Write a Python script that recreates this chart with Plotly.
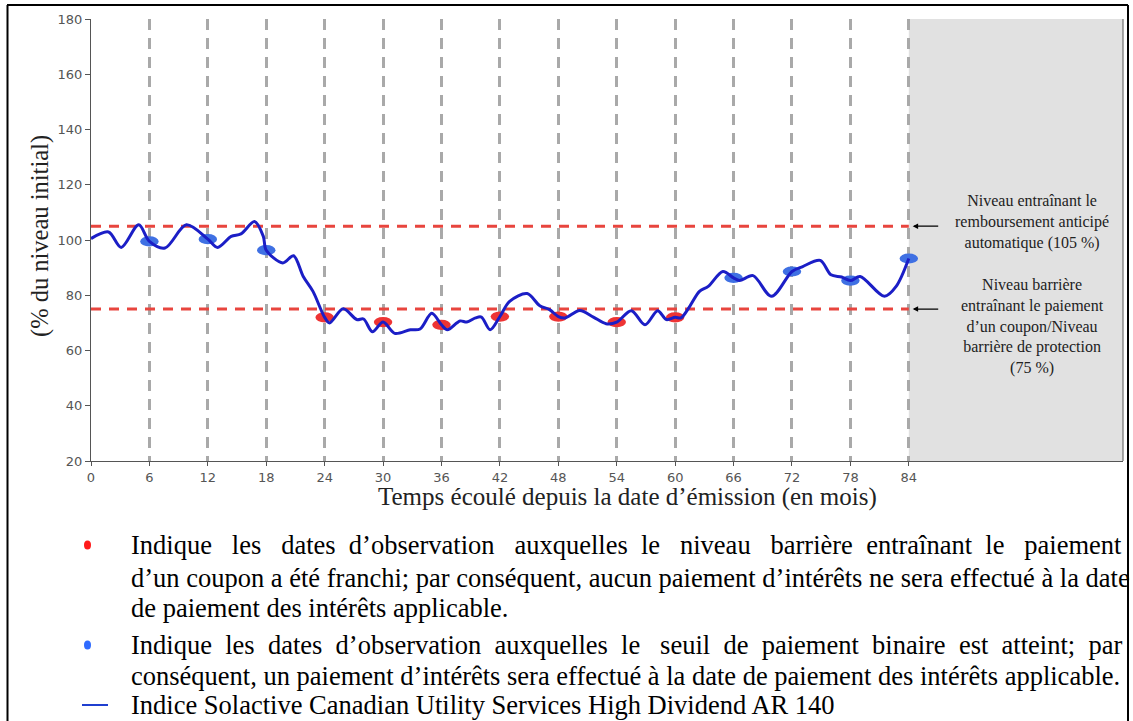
import plotly.graph_objects as go

# ---------------- data ----------------
months = [0, 1.8, 3.1, 4.9, 6, 7.6, 9.8, 12, 13.0, 14.4, 15.4, 16.8, 17.7, 18,
          19.7, 20.8, 21.8, 22.8, 24, 24.5, 25.9, 27.3, 28.0, 28.9, 30, 31.2, 32.8, 33.8, 35.0, 36,
          36.6, 37.9, 38.6, 39.5, 40.1, 41.0, 42, 43.0, 44.8, 46.1, 47.1, 48, 48.7, 50.2, 51.6, 52.9, 54,
          55.5, 56.9, 58.2, 59.1, 60, 60.6, 61.5, 62.5, 63.4, 64.9, 66, 66.6, 68.0, 69.9, 72, 73.1,
          74.9, 76.0, 77.1, 78, 79.0, 81.5, 82.7, 84]
index_level = [100.5, 102.9, 97.3, 105.5, 99.5, 97.1, 105.5, 100.3, 97.3, 101.3, 102.2, 106.7, 101.3, 96.3,
               91.7, 94.3, 86.8, 81.4, 72.0, 70.0, 75.1, 71.2, 71.4, 66.8, 70.3, 66.2, 67.5, 67.8, 73.5, 69.3,
               67.5, 70.7, 70.3, 71.8, 72.1, 67.5, 72.3, 77.8, 80.6, 76.2, 74.8, 72.3, 71.8, 74.5, 72.1, 69.7, 70.3,
               74.4, 69.3, 74.4, 71.2, 72.0, 71.8, 76.0, 81.4, 83.2, 88.6, 86.3, 85.3, 87.1, 79.6, 88.6, 90.4,
               92.6, 87.4, 86.6, 85.3, 86.8, 79.6, 83.2, 93.3]

obs_months = [6, 12, 18, 24, 30, 36, 42, 48, 54, 60, 66, 72, 78, 84]
obs_levels = [99.5, 100.3, 96.3, 72.0, 70.3, 69.3, 72.3, 72.3, 70.3, 72.0, 86.3, 88.6, 85.3, 93.3]

autocall_level = 105
barrier_level = 75
x_ticks = [0, 6, 12, 18, 24, 30, 36, 42, 48, 54, 60, 66, 72, 78, 84]
y_ticks = [20, 40, 60, 80, 100, 120, 140, 160, 180]
x_range = [0, 106]
y_range = [20, 180]

# ---------------- styles ----------------
LINE_BLUE = "#1b1ec6"
DOT_BLUE = "#3f70e3"
DOT_RED = "#ee3434"
DASH_RED = "#e8453e"
GRID_GRAY = "#a9a9a9"
SERIF = "Liberation Serif, Times New Roman, serif"
SANS = "DejaVu Sans, sans-serif"

W, H = 1133, 721
L, R, T, B = 91, 1123, 19, 461


def px(x):
    return (x - L) / (R - L)


def py(y):
    return (B - y) / (B - T)


fig = go.Figure()
fig.add_trace(go.Scatter(
    x=months, y=index_level, mode="lines",
    line=dict(color=LINE_BLUE, width=3, shape="spline", smoothing=0.9),
    showlegend=False, hoverinfo="skip"))

shapes = []
# shaded area after maturity
shapes.append(dict(type="rect", xref="x", yref="y", x0=x_ticks[-1], x1=x_range[1],
                   y0=y_range[0], y1=y_range[1], fillcolor="#e1e1e1", line=dict(width=0),
                   layer="below"))
# right edge of plot
shapes.append(dict(type="line", xref="paper", yref="paper", x0=1, x1=1, y0=0, y1=1,
                   line=dict(color="#555555", width=1)))
# threshold lines
for lvl in (autocall_level, barrier_level):
    shapes.append(dict(type="line", xref="x", yref="y", x0=0, x1=x_ticks[-1], y0=lvl, y1=lvl,
                       line=dict(color=DASH_RED, width=3, dash="10px,8px"), layer="between"))
# observation dots
dx, dy = 0.95, 1.85
for m, v in zip(obs_months, obs_levels):
    col = DOT_BLUE if v >= barrier_level else DOT_RED
    shapes.append(dict(type="circle", xref="x", yref="y", x0=m - dx, x1=m + dx,
                       y0=v - dy, y1=v + dy, fillcolor=col, line=dict(width=0),
                       layer="between"))

# outer frame
shapes.append(dict(type="line", xref="paper", yref="paper", x0=px(7), x1=px(1128),
                   y0=py(5), y1=py(5), line=dict(color="black", width=2)))
shapes.append(dict(type="line", xref="paper", yref="paper", x0=px(7.5), x1=px(7.5),
                   y0=py(5), y1=py(721), line=dict(color="black", width=2)))
shapes.append(dict(type="line", xref="paper", yref="paper", x0=px(1128), x1=px(1128),
                   y0=py(5), y1=py(721), line=dict(color="black", width=2)))

# legend symbols
shapes.append(dict(type="circle", xref="paper", yref="paper", x0=px(84), x1=px(91),
                   y0=py(549.5), y1=py(540.5), fillcolor="#ff1a1a", line=dict(width=0)))
shapes.append(dict(type="circle", xref="paper", yref="paper", x0=px(84), x1=px(91),
                   y0=py(649.5), y1=py(640.5), fillcolor="#2f6bff", line=dict(width=0)))
shapes.append(dict(type="line", xref="paper", yref="paper", x0=px(82), x1=px(108),
                   y0=py(705), y1=py(705), line=dict(color="#1f3fd0", width=2)))

annotations = []
# axis titles
annotations.append(dict(text="(% du niveau initial)", xref="paper", yref="paper",
                        x=px(40), y=py(236), textangle=-90, showarrow=False,
                        xanchor="center", yanchor="middle",
                        font=dict(family=SERIF, size=24.5, color="#222222")))
annotations.append(dict(text="Temps écoulé depuis la date d’émission (en mois)", xref="paper",
                        yref="paper", x=px(627), y=py(497), showarrow=False,
                        xanchor="center", yanchor="middle",
                        font=dict(family=SERIF, size=25, color="#222222")))
# right-hand notes
annotations.append(dict(text="Niveau entraînant le<br>remboursement anticipé<br>automatique (105 %)",
                        xref="paper", yref="paper", x=px(1032), y=py(222), showarrow=False,
                        xanchor="center", yanchor="middle", align="center",
                        font=dict(family=SERIF, size=16, color="#222222")))
annotations.append(dict(text="Niveau barrière<br>entraînant le paiement<br>d’un coupon/Niveau<br>barrière de protection<br>(75 %)",
                        xref="paper", yref="paper", x=px(1032), y=py(326), showarrow=False,
                        xanchor="center", yanchor="middle", align="center",
                        font=dict(family=SERIF, size=16, color="#222222")))
for lvl in (autocall_level, barrier_level):
    annotations.append(dict(text="", x=84.4, y=lvl, xref="x", yref="y", showarrow=True,
                            ax=27, ay=0, arrowhead=2, arrowsize=0.9, arrowwidth=1.2,
                            arrowcolor="black", standoff=0))

# legend text (justified lines widened with non-breaking spaces)
NB = "\u00a0"


def spread(words, extra):
    out = words[0]
    for i, w in enumerate(words[1:]):
        out += " " + NB * extra[i]
        out += w
    return out


leg_font = dict(family=SERIF, size=26.5, color="black")
lines = [
    (545, spread("Indique les dates d’observation auxquelles le niveau barrière entraînant le paiement".split(),
                 [2, 2, 1, 2, 1, 2, 2, 1, 1, 2])),
    (578, "d’un coupon a été franchi; par conséquent, aucun paiement d’intérêts ne sera effectué à la date"),
    (608, "de paiement des intérêts applicable."),
    (645, spread("Indique les dates d’observation auxquelles le seuil de paiement binaire est atteint; par".split(),
                 [1, 1, 1, 1, 1, 2, 1, 1, 1, 1, 1, 1])),
    (676, "conséquent, un paiement d’intérêts sera effectué à la date de paiement des intérêts applicable."),
    (705, "Indice Solactive Canadian Utility Services High Dividend AR 140"),
]
for yy, txt in lines:
    annotations.append(dict(text=txt, xref="paper", yref="paper", x=px(129), y=py(yy),
                            showarrow=False, xanchor="left", yanchor="middle", font=leg_font))

fig.update_layout(
    width=W, height=H,
    margin=dict(l=L, r=W - R, t=T, b=H - B, pad=0),
    paper_bgcolor="white", plot_bgcolor="white",
    shapes=shapes, annotations=annotations, showlegend=False,
    xaxis=dict(range=x_range, tickvals=x_ticks, ticktext=[str(t) for t in x_ticks],
               showgrid=True, gridcolor=GRID_GRAY, gridwidth=2.5, griddash="11px,8px",
               zeroline=False, showline=True, linecolor="#555555", linewidth=1,
               ticks="outside", ticklen=4, tickcolor="#555555",
               tickfont=dict(family=SANS, size=13, color="#555555")),
    yaxis=dict(range=y_range, tickvals=y_ticks, showgrid=False, zeroline=False,
               showline=True, linecolor="#555555", linewidth=1,
               ticks="outside", ticklen=5, tickcolor="#555555",
               tickfont=dict(family=SANS, size=13, color="#555555")),
)

fig.write_html("out.html", config={"displayModeBar": False},
               post_script="document.body.style.margin='0';document.body.style.overflow='hidden';")
